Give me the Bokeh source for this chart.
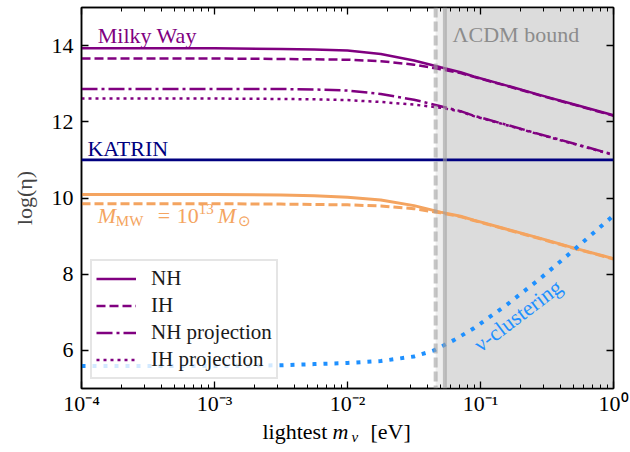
import math

from bokeh.embed import file_html
from bokeh.layouts import column
from bokeh.models import (BoxAnnotation, ColumnDataSource, CustomJSTickFormatter,
                          FixedTicker, Label, Legend, LinearAxis, LogAxis, Span)
from bokeh.plotting import figure
from bokeh.resources import INLINE

# ---------------------------------------------------------------- data
# lightest neutrino mass grid [eV]
m_lightest = [1e-4, 1e-3, 3.16e-3, 5.62e-3, 1e-2, 1.78e-2, 3.16e-2,
              5.01e-2, 7.08e-2, 8.91e-2, 0.158, 0.282, 0.501, 1.0]

# log(eta) for the Milky Way halo
mw_nh = [13.93, 13.93, 13.91, 13.90, 13.87, 13.78, 13.61,
         13.43, 13.30, 13.19, 12.95, 12.70, 12.46, 12.17]
mw_ih = [13.66, 13.66, 13.65, 13.64, 13.63, 13.59, 13.50,
         13.38, 13.28, 13.18, 12.94, 12.69, 12.45, 12.16]
mw_nh_proj = [12.86, 12.86, 12.86, 12.85, 12.82, 12.73, 12.58,
              12.41, 12.28, 12.16, 11.92, 11.67, 11.43, 11.14]
mw_ih_proj = [12.61, 12.61, 12.60, 12.59, 12.57, 12.52, 12.45,
              12.37, 12.27, 12.15, 11.91, 11.66, 11.42, 11.13]

# log(eta) for a 10^13 solar-mass halo
m13_nh = [10.09, 10.09, 10.08, 10.06, 10.02, 9.95, 9.80,
          9.63, 9.52, 9.42, 9.18, 8.94, 8.69, 8.41]
m13_ih = [9.85, 9.85, 9.84, 9.83, 9.82, 9.79, 9.72,
          9.61, 9.51, 9.41, 9.17, 8.93, 8.68, 8.40]

# gravitational clustering overdensity
m_clustering = [1e-4, 1e-3, 3.16e-3, 5.62e-3, 1e-2, 1.78e-2, 3.16e-2,
                4.47e-2, 6.31e-2, 8.91e-2, 0.158, 0.282, 0.501, 1.0]
clustering = [5.59, 5.59, 5.61, 5.64, 5.67, 5.72, 5.84,
              6.00, 6.27, 6.58, 7.20, 7.89, 8.63, 9.54]

KATRIN_LOG_ETA = 11.0
LCDM_BOUNDS = [0.046, 0.054]      # dashed / solid bound on the lightest mass [eV]

X_TICKS = [1e-4, 1e-3, 1e-2, 1e-1, 1.0]
X_TICK_LABELS = ["10\u207b\u2074", "10\u207b\u00b3", "10\u207b\u00b2", "10\u207b\u00b9", "10\u2070"]
Y_TICKS = [6, 8, 10, 12, 14]

# ---------------------------------------------------------------- style
PURPLE = "#800080"
NAVY = "#000080"
ORANGE = "#f4a460"
BLUE = "#1e90ff"
GREY_TXT = "#8c8c8c"
FONT = "Liberation Serif"
FS = "22px"
FS_LEGEND = "21px"
FS_SMALL = "15px"
SUB = -5.4    # vertical shift of a subscript centre, px
SUP = 3.6     # vertical shift of a superscript centre, px

PLOT_H = 418
LABEL_H = 452 - PLOT_H

p = figure(width=630, height=PLOT_H, x_axis_type="log",
           x_range=(1e-4, 1.0), y_range=(5, 15),
           output_backend="svg", toolbar_location=None,
           min_border_left=81, min_border_right=17,
           min_border_top=7, min_border_bottom=29)
p.grid.visible = False
p.outline_line_color = "black"
p.outline_line_width = 1.5
p.background_fill_color = "white"
p.border_fill_color = "white"

bottom_axis = p.below[0]
left_axis = p.left[0]

minor = [k * 10.0 ** d for d in range(-4, 0) for k in range(2, 10)]
x_ticker = FixedTicker(ticks=X_TICKS, minor_ticks=minor)
y_ticker = FixedTicker(ticks=Y_TICKS)

x_fmt = CustomJSTickFormatter(args=dict(tvals=X_TICKS, tlabels=X_TICK_LABELS), code="""
    let best = 0;
    for (let i = 0; i < tvals.length; i++) {
        if (Math.abs(Math.log10(tvals[i]) - Math.log10(tick)) <
            Math.abs(Math.log10(tvals[best]) - Math.log10(tick))) best = i;
    }
    return tlabels[best];
""")

top_axis = LogAxis(ticker=x_ticker)
right_axis = LinearAxis(ticker=y_ticker)
p.add_layout(top_axis, "above")
p.add_layout(right_axis, "right")

bottom_axis.ticker = x_ticker
left_axis.ticker = y_ticker

for ax in [bottom_axis, left_axis, top_axis, right_axis]:
    ax.axis_line_width = 1.5
    ax.axis_line_color = "black"
    ax.major_tick_in = 7
    ax.major_tick_out = 0
    ax.minor_tick_in = 4
    ax.minor_tick_out = 0
    ax.major_tick_line_width = 1.3
    ax.minor_tick_line_width = 1.0
    ax.major_label_text_font = FONT
    ax.major_label_text_font_size = FS
    ax.major_label_text_color = "black"
    ax.major_label_standoff = 8

for ax in [left_axis, right_axis]:
    ax.minor_tick_line_color = None

bottom_axis.formatter = x_fmt
bottom_axis.major_label_standoff = 2
# mirrored axes carry ticks only
for ax in [top_axis, right_axis]:
    ax.major_label_text_color = None
    ax.major_label_text_font_size = "1px"
    ax.major_label_standoff = 0

left_axis.axis_label = "log(\u03b7)"
left_axis.axis_label_text_font = FONT
left_axis.axis_label_text_font_size = FS
left_axis.axis_label_text_font_style = "normal"
left_axis.axis_label_standoff = 12

# ---------------------------------------------------------------- excluded region
p.add_layout(BoxAnnotation(left=LCDM_BOUNDS[0], right=LCDM_BOUNDS[1],
                           fill_color="#eeeeee", fill_alpha=1.0,
                           line_color=None, level="underlay"))
p.add_layout(BoxAnnotation(left=LCDM_BOUNDS[1],
                           fill_color="#dcdcdc", fill_alpha=1.0,
                           line_color=None, level="underlay"))

# ---------------------------------------------------------------- curves
src = ColumnDataSource(dict(m=m_lightest, mw_nh=mw_nh, mw_ih=mw_ih,
                            mw_nh_proj=mw_nh_proj, mw_ih_proj=mw_ih_proj,
                            m13_nh=m13_nh, m13_ih=m13_ih))
clus = ColumnDataSource(dict(m=m_clustering, eta=clustering))

p.line("m", "m13_nh", source=src, line_color=ORANGE, line_width=3)
p.line("m", "m13_ih", source=src, line_color=ORANGE, line_width=3, line_dash="9 4")

r_nh = p.line("m", "mw_nh", source=src, line_color=PURPLE, line_width=2.5)
r_ih = p.line("m", "mw_ih", source=src, line_color=PURPLE, line_width=2.5, line_dash="9 4")
r_nhp = p.line("m", "mw_nh_proj", source=src, line_color=PURPLE, line_width=2.5,
               line_dash="16 4 3 4")
r_ihp = p.line("m", "mw_ih_proj", source=src, line_color=PURPLE, line_width=2.5,
               line_dash="3 4")

p.line("m", "eta", source=clus, line_color=BLUE, line_width=4, line_dash="4 7")

p.add_layout(Span(location=KATRIN_LOG_ETA, dimension="width",
                  line_color=NAVY, line_width=2.8))

# bound lines on top of everything else
p.add_layout(Span(location=LCDM_BOUNDS[0], dimension="height", line_color="#a0a0a0",
                  line_alpha=0.6, line_width=4, line_dash="10 4"))
p.add_layout(Span(location=LCDM_BOUNDS[1], dimension="height", line_color="#a0a0a0",
                  line_alpha=0.6, line_width=4))

# ---------------------------------------------------------------- legend
legend = Legend(items=[("NH", [r_nh]), ("IH", [r_ih]),
                       ("NH projection", [r_nhp]), ("IH projection", [r_ihp])],
                location=(9, 9), margin=0, padding=4, spacing=0,
                label_height=27, glyph_height=27, glyph_width=40, label_standoff=15,
                label_text_font=FONT, label_text_font_size=FS_LEGEND,
                label_text_color="#1a1a1a",
                background_fill_color="white", background_fill_alpha=0.8,
                border_line_color="#cccccc", border_line_width=2)
p.add_layout(legend)


# ---------------------------------------------------------------- annotations
def put(fig, text, x, y, color, dx=0, dy=0, size=FS, style="normal", units="data"):
    fig.add_layout(Label(x=x, y=y, x_offset=dx, y_offset=dy, text=text,
                         x_units=units, y_units=units,
                         text_font=FONT, text_font_size=size, text_font_style=style,
                         text_color=color, text_baseline="middle"))


put(p, "Milky Way", 10 ** -3.878, 14.26, PURPLE)
put(p, "KATRIN", 10 ** -3.955, 11.30, NAVY)
put(p, "\u039bCDM bound", 0.0617, 14.28, GREY_TXT)

# M_MW = 10^13 M_sun
mx, my = 10 ** -3.877, 9.53
put(p, "M", mx, my, ORANGE, dx=0, style="italic")
put(p, "MW", mx, my, ORANGE, dx=18, dy=SUB, size=FS_SMALL)
put(p, "=", mx, my, ORANGE, dx=60)
put(p, "10", mx, my, ORANGE, dx=79)
put(p, "13", mx, my, ORANGE, dx=101, dy=SUP + 3, size=FS_SMALL)
put(p, "M", mx, my, ORANGE, dx=120, style="italic")
put(p, "\u2299", mx, my, ORANGE, dx=140, dy=SUB, size=FS_SMALL)

# nu-clustering along the dotted curve
p.add_layout(Label(x=0.191, y=6.92, text="\u03bd-clustering", angle=math.radians(37),
                   text_font=FONT, text_font_size=FS, text_color=BLUE,
                   text_align="center", text_baseline="middle"))

# ---------------------------------------------------------------- x axis title strip
# the strip's frame is aligned with the main frame, so x is measured from its left edge
strip = figure(width=630, height=LABEL_H, output_backend="svg", toolbar_location=None,
               min_border=0, x_range=(0, 1), y_range=(0, 1))
strip.axis.visible = False
strip.grid.visible = False
strip.outline_line_color = None
strip.background_fill_color = "white"
strip.border_fill_color = "white"

lx, ly = 181, 21
put(strip, "lightest", lx, ly, "black", units="screen")
put(strip, "m", lx + 70, ly, "black", style="italic", units="screen")
put(strip, "\u03bd", lx + 89, ly + SUB, "black", size=FS_SMALL, style="italic", units="screen")
put(strip, "[eV]", lx + 108, ly, "black", units="screen")

page = column(p, strip, spacing=0)
open("out.html", "w").write(file_html(page, INLINE))
